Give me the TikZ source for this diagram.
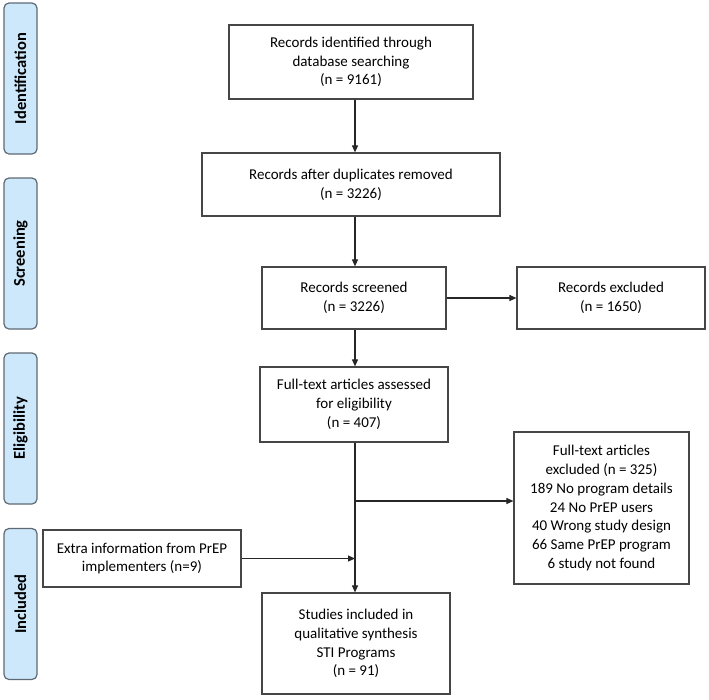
\documentclass[tikz,border=0pt]{standalone}
\usepackage{fontspec}
\setmainfont{Carlito}
\usetikzlibrary{arrows.meta,calc}
\definecolor{panelfill}{RGB}{205,232,250}
\definecolor{panelline}{RGB}{95,105,115}
\definecolor{boxline}{RGB}{70,70,70}
\begin{document}
\begin{tikzpicture}[x=1pt,y=-1pt,
  flowbox/.style={draw=boxline,line width=1.2pt,align=center,inner sep=0pt,
    font=\fontsize{15}{18.7}\selectfont},
  panel/.style={draw=panelline,fill=panelfill,line width=1.2pt,rounded corners=5pt,
    rotate=90,minimum width=151pt,minimum height=33pt,inner sep=0pt,
    font=\fontsize{16.5}{19}\selectfont\bfseries},
  arr/.style={draw=black!85,line width=1.1pt,-{Triangle[length=7pt,width=6pt]}},
  ln/.style={draw=black!85,line width=1.1pt}]
\useasboundingbox (0,0) rectangle (709,699);
\coordinate (axis) at (355,0);
% side panels
\node[panel] (p1) at (20.5,78.5) {Identification};
\node[panel] (p2) at (20.5,253.5) {Screening};
\node[panel] (p3) at (20.5,428.5) {Eligibility};
\node[panel] (p4) at (20.5,604) {Included};
% boxes
\node[flowbox,minimum width=244pt,minimum height=74pt] (b1) at (351,62)
  {Records identified through\\database searching\\(n = 9161)};
\node[flowbox,minimum width=298pt,minimum height=63pt] (b2) at (351,184.5)
  {Records after duplicates removed\\(n = 3226)};
\node[flowbox,minimum width=184pt,minimum height=62pt] (b3) at (354,298)
  {Records screened\\(n = 3226)};
\node[flowbox,minimum width=188pt,minimum height=62pt] (ex1) at (611,298)
  {Records excluded\\(n = 1650)};
\node[flowbox,minimum width=188pt,minimum height=75pt] (b4) at (354,404.5)
  {Full-text articles assessed\\for eligibility\\(n = 407)};
\node[flowbox,minimum width=175pt,minimum height=152pt] (ex2) at (601.5,508)
  {Full-text articles\\excluded (n = 325)\\189 No program details\\24 No PrEP users\\40 Wrong study design\\66 Same PrEP program\\6 study not found};
\node[flowbox,minimum width=198pt,minimum height=57pt] (extra) at (142,558.5)
  {Extra information from PrEP\\implementers (n=9)};
\node[flowbox,minimum width=188pt,minimum height=101pt] (b5) at (356,643.5)
  {Studies included in\\qualitative synthesis\\STI Programs\\(n = 91)};
% connectors
\draw[arr] (b1.south -| axis) -- (b2.north -| axis);
\draw[arr] (b2.south -| axis) -- (b3.north -| axis);
\draw[arr] (b3.south -| axis) -- (b4.north -| axis);
\draw[arr] (b3.east) -- (ex1.west);
\coordinate (br) at (355,501);
\draw[arr] (b4.south -| axis) -- (b5.north -| axis);
\draw[arr] (br) -- (ex2.west |- br);
\draw[arr] (extra.east) -- (extra.east -| axis);
\end{tikzpicture}
\end{document}
